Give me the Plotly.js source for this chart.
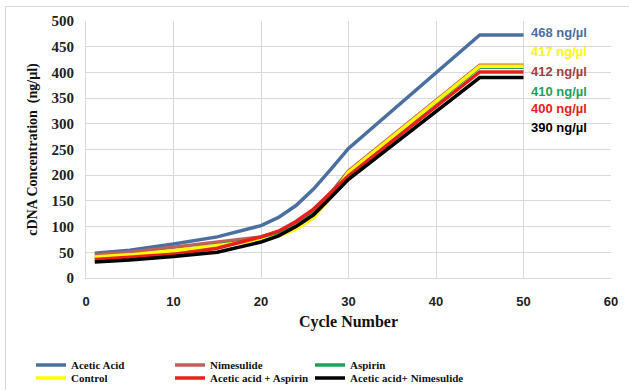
<!DOCTYPE html>
<html>
<head>
<meta charset="utf-8">
<script src="https://cdn.plot.ly/plotly-3.0.1.min.js"></script>
<style>
html,body{margin:0;padding:0;background:#fff;}
#wrap{position:relative;width:629px;height:390px;overflow:hidden;}
#frame{position:absolute;left:5px;top:6px;width:640px;height:400px;border-left:1px solid #d9d9d9;border-top:1px solid #d9d9d9;pointer-events:none;z-index:5;}
#chart{position:absolute;left:0;top:0;width:629px;height:390px;}
</style>
</head>
<body>
<div id="wrap"><div id="chart"></div><div id="frame"></div></div>
<script>
// Data
var cycles = [1, 5, 10, 15, 20, 22, 24, 26, 28, 30, 45, 50];
var aceticAcid       = [48, 54, 66, 80, 102, 118, 141, 173, 212, 252, 473, 473];
var nimesulide       = [45, 50, 60, 70, 80, 90, 106, 131, 166, 208, 414, 414];
var aspirin          = [40, 44, 52, 64, 76, 86, 101, 125, 161, 204, 410, 410];
var control          = [41, 45, 53, 63, 73, 82, 95, 117, 158, 206, 412, 412];
var aceticAspirin    = [36, 40, 46, 58, 80, 91, 110, 134, 167, 199, 401, 401];
var aceticNimesulide = [31, 35, 42, 50, 70, 82, 100, 123, 157, 192, 390, 390];

var seriesNames = ["Acetic Acid", "Nimesulide", "Aspirin", "Control", "Acetic acid + Aspirin", "Acetic acid+ Nimesulide"];
var seriesValues = [aceticAcid, nimesulide, aspirin, control, aceticAspirin, aceticNimesulide];
var seriesColors = ["#4a6fa0", "#c0605a", "#1fa05a", "#ffff00", "#e8201c", "#000000"];

var endLabels = ["468 ng/µl", "417 ng/µl", "412 ng/µl", "410 ng/µl", "400 ng/µl", "390 ng/µl"];
var endLabelColors = ["#4a6fa0", "#ffff00", "#a04040", "#1fa05a", "#e8201c", "#000000"];

var legendIds = ["legend", "legend2", "legend3", "legend4", "legend5", "legend6"];

var traces = seriesNames.map(function (n, i) {
  return {
    x: cycles, y: seriesValues[i], name: n, type: "scatter", mode: "lines",
    legend: legendIds[i],
    line: {color: seriesColors[i], width: 3.5, shape: "linear"}
  };
});

var labelY = [0.955, 0.88, 0.802, 0.725, 0.66, 0.586];
var annotations = endLabels.map(function (t, i) {
  return {
    xref: "paper", yref: "paper", x: 0.843, y: labelY[i], xanchor: "left", yanchor: "middle",
    text: "<b>" + t + "</b>", showarrow: false,
    font: {family: "Liberation Sans, Arial, sans-serif", size: 13, color: endLabelColors[i]}
  };
});

var legendFont = {family: "Liberation Serif, Times New Roman, serif", size: 11, color: "#111", weight: "bold"};
var colX = [31, 170, 310];
var rowY = [365, 378];
function legendAt(col, row) {
  return {
    orientation: "h", xref: "container", yref: "container",
    x: colX[col] / 629, y: 1 - rowY[row] / 390, xanchor: "left", yanchor: "middle",
    itemwidth: 30, font: legendFont, bgcolor: "rgba(0,0,0,0)"
  };
}

var layout = {
  width: 629, height: 390,
  margin: {l: 86, r: 18, t: 21, b: 112},
  paper_bgcolor: "#ffffff", plot_bgcolor: "#ffffff",
  showlegend: true,
  xaxis: {
    range: [0, 60], dtick: 10, tick0: 0, automargin: false,
    showgrid: true, gridcolor: "#d9d9d9", gridwidth: 1,
    zeroline: false, showline: true, linecolor: "#d9d9d9", ticks: "",
    ticklabelstandoff: 11,
    tickfont: {family: "Liberation Sans, Arial, sans-serif", size: 13, color: "#222", weight: "bold"},
    title: {text: "Cycle Number", standoff: 8,
      font: {family: "Liberation Serif, Times New Roman, serif", size: 16, color: "#111", weight: "bold"}}
  },
  yaxis: {
    range: [0, 500], dtick: 50, automargin: false,
    showgrid: true, gridcolor: "#d9d9d9", gridwidth: 1,
    zeroline: false, showline: true, linecolor: "#d9d9d9", ticks: "",
    ticklabelstandoff: 8,
    tickfont: {family: "Liberation Serif, Times New Roman, serif", size: 15, color: "#222", weight: "bold"},
    title: {text: "cDNA Concentration  (ng/µl)", standoff: 10,
      font: {family: "Liberation Serif, Times New Roman, serif", size: 14, color: "#111", weight: "bold"}}
  },
  legend:  legendAt(0, 0),
  legend2: legendAt(1, 0),
  legend3: legendAt(2, 0),
  legend4: legendAt(0, 1),
  legend5: legendAt(1, 1),
  legend6: legendAt(2, 1),
  annotations: annotations
};

Plotly.newPlot("chart", traces, layout, {displayModeBar: false, staticPlot: true});
</script>
</body>
</html>
